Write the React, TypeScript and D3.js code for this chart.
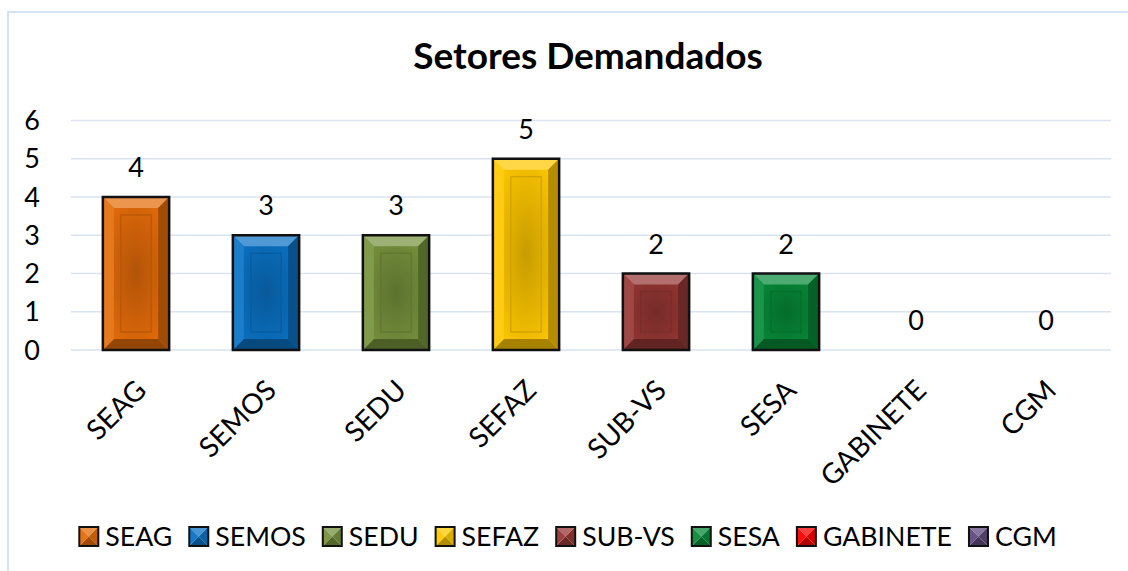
import React, { useEffect, useRef } from "react";
import * as d3 from "d3";

const categories = ["SEAG", "SEMOS", "SEDU", "SEFAZ", "SUB-VS", "SESA", "GABINETE", "CGM"];
const values = [4, 3, 3, 5, 2, 2, 0, 0];
const colors = ["#E46C0A", "#0A72C4", "#76923C", "#FFC800", "#963735", "#078A38", "#FF0000", "#5F4A7E"];
const yTicks = [0, 1, 2, 3, 4, 5, 6];
const title = "Setores Demandados";

const W = 1128;
const H = 571;
const FONT = "Lato, 'Open Sans', sans-serif";

export default function App() {
  const ref = useRef<SVGSVGElement | null>(null);

  useEffect(() => {
    const svg = d3.select(ref.current);
    svg.selectAll("*").remove();

    const x = d3.scaleBand<string>().domain(categories).range([71, 1111]).paddingInner(0.49).paddingOuter(0.245);
    const y = d3.scaleLinear().domain([0, 6]).range([350, 120.5]);

    const defs = svg.append("defs");

    // frame (left and top edges visible; right/bottom lie outside the picture)
    svg.append("rect").attr("x", 0).attr("y", 0).attr("width", W).attr("height", H).attr("fill", "white");
    svg.append("path").attr("d", `M8,${H + 5} V12 H${W + 5}`)
      .attr("fill", "none").attr("stroke", "#D5E2F3").attr("stroke-width", 2);

    // title
    svg.append("text").attr("x", 588).attr("y", 69).attr("text-anchor", "middle")
      .attr("font-family", FONT).attr("font-weight", 700).attr("font-size", 37).attr("fill", "#000")
      .text(title);

    // gridlines
    svg.append("g").selectAll("line").data(yTicks).join("line")
      .attr("x1", 71).attr("x2", 1111).attr("y1", (d) => y(d)).attr("y2", (d) => y(d))
      .attr("stroke", "#D9E3F2").attr("stroke-width", 1.5);

    // y tick labels
    svg.append("g").selectAll("text").data(yTicks).join("text")
      .attr("x", 40).attr("y", (d) => y(d) + 9.5).attr("text-anchor", "end")
      .attr("font-family", FONT).attr("font-size", 27).attr("fill", "#000")
      .text((d) => String(d));

    const lighter = (c: string, k: number) => d3.interpolateRgb(c, "#ffffff")(k);
    const darker = (c: string, k: number) => d3.interpolateRgb(c, "#000000")(k);

    // bars
    const bars = svg.append("g");
    categories.forEach((cat, i) => {
      const v = values[i];
      if (v <= 0) return;
      const bx = x(cat)!;
      const bw = x.bandwidth();
      const by = y(v);
      const bh = y(0) - by;
      const c = colors[i];
      const gid = `rg${i}`;
      const rg = defs.append("radialGradient").attr("id", gid).attr("cx", "50%").attr("cy", "50%").attr("r", "60%");
      rg.append("stop").attr("offset", "0%").attr("stop-color", darker(c, 0.22));
      rg.append("stop").attr("offset", "100%").attr("stop-color", c);

      const g = bars.append("g");
      g.append("rect").attr("x", bx).attr("y", by).attr("width", bw).attr("height", bh).attr("fill", `url(#${gid})`);
      const b = Math.min(11, bh / 5);
      const poly = (pts: number[][], fill: string) =>
        g.append("polygon").attr("points", pts.map((p) => p.join(",")).join(" ")).attr("fill", fill);
      poly([[bx, by], [bx + bw, by], [bx + bw - b, by + b], [bx + b, by + b]], lighter(c, 0.28));
      poly([[bx, by + bh], [bx + bw, by + bh], [bx + bw - b, by + bh - b], [bx + b, by + bh - b]], darker(c, 0.35));
      poly([[bx, by], [bx + b, by + b], [bx + b, by + bh - b], [bx, by + bh]], lighter(c, 0.08));
      poly([[bx + bw, by], [bx + bw - b, by + b], [bx + bw - b, by + bh - b], [bx + bw, by + bh]], darker(c, 0.3));
      const ins = 18;
      if (bh > 2 * ins + 10) {
        g.append("rect").attr("x", bx + ins).attr("y", by + ins).attr("width", bw - 2 * ins).attr("height", bh - 2 * ins)
          .attr("fill", "none").attr("stroke", darker(c, 0.2)).attr("stroke-width", 1.2);
      } else {
        g.append("rect").attr("x", bx + 15).attr("y", by + 15).attr("width", bw - 30).attr("height", bh - 30)
          .attr("fill", "none").attr("stroke", darker(c, 0.2)).attr("stroke-width", 1.2);
      }
      g.append("rect").attr("x", bx).attr("y", by).attr("width", bw).attr("height", bh)
        .attr("fill", "none").attr("stroke", "#111").attr("stroke-width", 2.5);
    });

    // data labels
    svg.append("g").selectAll("text").data(categories).join("text")
      .attr("x", (d) => x(d)! + x.bandwidth() / 2)
      .attr("y", (_d, i) => y(values[i]) - 20)
      .attr("text-anchor", "middle").attr("font-family", FONT).attr("font-size", 27).attr("fill", "#000")
      .text((_d, i) => String(values[i]));

    // category labels
    svg.append("g").selectAll("text").data(categories).join("text")
      .attr("transform", (d) => `translate(${x(d)! + x.bandwidth() / 2 + 12},${392}) rotate(-45)`)
      .attr("text-anchor", "end").attr("font-family", FONT).attr("font-size", 28).attr("fill", "#000")
      .text((d) => d);

    // legend
    const lg = svg.append("g");
    const items: { g: any; w: number }[] = [];
    const sq = 19;
    categories.forEach((cat, i) => {
      const g = lg.append("g");
      const c = colors[i];
      const s = sq;
      const cx = s / 2, cy = s / 2;
      const tri = (pts: number[][], fill: string) =>
        g.append("polygon").attr("points", pts.map((p) => p.join(",")).join(" ")).attr("fill", fill);
      tri([[0, 0], [s, 0], [cx, cy]], lighter(c, 0.25));
      tri([[0, s], [s, s], [cx, cy]], darker(c, 0.3));
      tri([[0, 0], [0, s], [cx, cy]], lighter(c, 0.05));
      tri([[s, 0], [s, s], [cx, cy]], darker(c, 0.15));
      g.append("rect").attr("x", 0).attr("y", 0).attr("width", s).attr("height", s)
        .attr("fill", "none").attr("stroke", "#111").attr("stroke-width", 2);
      const t = g.append("text").attr("x", s + 7).attr("y", s - 0.5)
        .attr("font-family", FONT).attr("font-size", 26.7).attr("fill", "#000").text(cat);
      const tw = (t.node() as SVGTextElement).getComputedTextLength();
      items.push({ g, w: s + 7 + tw });
    });
    const gap = 17;
    const total = d3.sum(items, (d) => d.w) + gap * (items.length - 1);
    let cur = 568 - total / 2;
    items.forEach((it) => {
      it.g.attr("transform", `translate(${cur},${527})`);
      cur += it.w + gap;
    });
  }, []);

  return (
    <svg ref={ref} width={W} height={H} style={{ position: "fixed", left: 0, top: 0, background: "#fff" }} />
  );
}
